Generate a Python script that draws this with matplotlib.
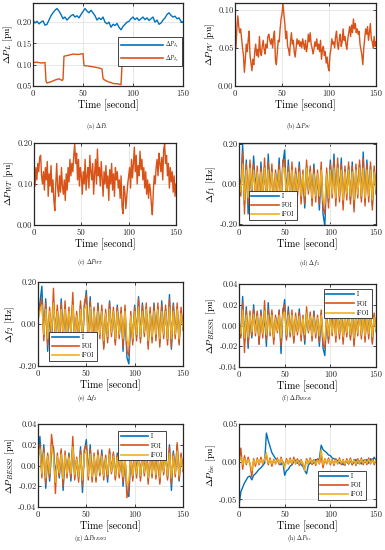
import numpy as np
import matplotlib
matplotlib.use("Agg")
import matplotlib.pyplot as plt
from matplotlib.ticker import FormatStrFormatter

plt.rcParams['font.family'] = ['cmr10', 'DejaVu Serif']
plt.rcParams['mathtext.fontset'] = 'cm'
plt.rcParams['axes.unicode_minus'] = False
plt.rcParams['axes.formatter.use_mathtext'] = False

C_BLUE = '#0072BD'
C_ORANGE = '#D95319'
C_YELLOW = '#EDB120'

# ---------------- data ----------------
t2 = np.arange(0, 151, 2)   # 2-second sample grid
t1 = np.arange(0, 151, 1)   # 1-second sample grid

PL1 = [0.205, 0.198, 0.202, 0.196, 0.200, 0.203, 0.193, 0.195, 0.205, 0.215,
       0.222, 0.228, 0.232, 0.226, 0.218, 0.208, 0.212, 0.205, 0.210, 0.215,
       0.218, 0.212, 0.215, 0.210, 0.218, 0.225, 0.232, 0.226, 0.222, 0.228,
       0.222, 0.215, 0.205, 0.210, 0.206, 0.212, 0.200, 0.196, 0.200, 0.188,
       0.195, 0.192, 0.197, 0.188, 0.182, 0.190, 0.195, 0.200, 0.202, 0.208,
       0.212, 0.206, 0.210, 0.204, 0.208, 0.212, 0.206, 0.210, 0.204, 0.208,
       0.212, 0.200, 0.205, 0.195, 0.198, 0.205, 0.210, 0.218, 0.222, 0.216,
       0.212, 0.214, 0.208, 0.210, 0.202, 0.200]

PL2_t = [0, 4, 8, 12, 13, 14, 18, 22, 26, 29, 30, 31, 35, 40, 45, 50, 51, 55, 60, 65,
         69, 70, 71, 75, 78, 80, 85, 88, 89, 90, 95, 100, 105, 110, 115, 120, 125, 130,
         135, 140, 145, 150]
PL2 = [0.105, 0.106, 0.104, 0.105, 0.062, 0.057, 0.060, 0.064, 0.067, 0.063, 0.065,
       0.120, 0.122, 0.125, 0.124, 0.126, 0.098, 0.097, 0.095, 0.093, 0.090, 0.068,
       0.065, 0.060, 0.058, 0.056, 0.055, 0.053, 0.098, 0.102, 0.106, 0.108, 0.105,
       0.107, 0.104, 0.106, 0.108, 0.106, 0.112, 0.108, 0.106, 0.105]

PPV = [0.065, 0.050, 0.075, 0.092, 0.078, 0.070, 0.075, 0.062, 0.050, 0.040,
       0.018, 0.035, 0.055, 0.045, 0.060, 0.072, 0.040, 0.030, 0.020, 0.035,
       0.028, 0.045, 0.055, 0.040, 0.048, 0.038, 0.065, 0.045, 0.040, 0.052,
       0.060, 0.048, 0.042, 0.055, 0.050, 0.065, 0.068, 0.060, 0.055, 0.062,
       0.050, 0.065, 0.072, 0.035, 0.028, 0.045, 0.060, 0.058, 0.075, 0.088,
       0.095, 0.108, 0.095, 0.082, 0.062, 0.072, 0.052, 0.048, 0.040, 0.058,
       0.070, 0.055, 0.060, 0.045, 0.038, 0.050, 0.062, 0.055, 0.060, 0.052,
       0.058, 0.050, 0.062, 0.055, 0.048, 0.060, 0.045, 0.052, 0.068, 0.058,
       0.070, 0.055, 0.050, 0.042, 0.048, 0.058, 0.052, 0.062, 0.048, 0.055,
       0.045, 0.060, 0.035, 0.048, 0.052, 0.040, 0.045, 0.030, 0.038, 0.025,
       0.020, 0.040, 0.048, 0.062, 0.055, 0.058, 0.050, 0.065, 0.072, 0.055,
       0.048, 0.062, 0.068, 0.052, 0.058, 0.075, 0.060, 0.065, 0.055, 0.048,
       0.062, 0.070, 0.078, 0.065, 0.080, 0.070, 0.088, 0.075, 0.082, 0.070,
       0.075, 0.068, 0.072, 0.055, 0.048, 0.040, 0.028, 0.050, 0.062, 0.075,
       0.068, 0.078, 0.060, 0.070, 0.082, 0.062, 0.058, 0.050, 0.065, 0.052,
       0.058]

PWT = [0.120, 0.095, 0.140, 0.110, 0.150, 0.130, 0.165, 0.170, 0.120, 0.100,
       0.130, 0.085, 0.140, 0.110, 0.155, 0.070, 0.125, 0.095, 0.145, 0.080,
       0.110, 0.060, 0.035, 0.100, 0.150, 0.090, 0.070, 0.120, 0.080, 0.140,
       0.095, 0.075, 0.110, 0.060, 0.125, 0.085, 0.140, 0.105, 0.160, 0.120,
       0.150, 0.130, 0.170, 0.198, 0.150, 0.175, 0.110, 0.160, 0.095, 0.140,
       0.120, 0.075, 0.130, 0.100, 0.160, 0.085, 0.120, 0.140, 0.090, 0.170,
       0.130, 0.110, 0.150, 0.075, 0.125, 0.160, 0.100, 0.185, 0.120, 0.140,
       0.095, 0.155, 0.115, 0.070, 0.130, 0.100, 0.145, 0.090, 0.120, 0.060,
       0.135, 0.100, 0.150, 0.085, 0.125, 0.070, 0.140, 0.110, 0.130, 0.090,
       0.110, 0.065, 0.120, 0.045, 0.028, 0.095, 0.080, 0.040, 0.070, 0.100,
       0.120, 0.140, 0.090, 0.160, 0.115, 0.150, 0.190, 0.130, 0.170, 0.100,
       0.145, 0.120, 0.180, 0.135, 0.160, 0.110, 0.140, 0.090, 0.130, 0.075,
       0.110, 0.065, 0.100, 0.085, 0.050, 0.025, 0.080, 0.120, 0.100, 0.140,
       0.160, 0.120, 0.175, 0.150, 0.130, 0.165, 0.110, 0.185, 0.198, 0.150,
       0.170, 0.120, 0.150, 0.090, 0.140, 0.105, 0.130, 0.080, 0.120, 0.070,
       0.100]

F1_I = [0.05, -0.04, 0.20, -0.10, 0.12, -0.15, 0.08, -0.06, 0.14, -0.02,
        0.06, -0.10, 0.11, -0.05, 0.09, -0.12, 0.15, -0.04, 0.07, -0.09,
        0.05, -0.02, 0.13, -0.10, 0.10, 0.17, -0.08, 0.12, -0.06, 0.08,
        -0.10, 0.06, -0.04, 0.11, -0.07, 0.05, -0.12, 0.09, -0.03, 0.07,
        -0.08, 0.10, -0.06, 0.04, -0.13, 0.08, -0.15, -0.21, 0.05, -0.09,
        0.12, -0.04, 0.15, -0.08, 0.10, -0.06, 0.13, -0.10, 0.07, -0.05,
        0.09, -0.08, 0.11, -0.12, 0.08, -0.04, 0.10, -0.07, 0.16, -0.09,
        0.12, -0.06, 0.09, -0.11, 0.07, -0.03]
F1_FOI = [0.03, -0.06, 0.16, -0.15, 0.10, -0.10, 0.12, -0.04, 0.10, -0.08,
          0.09, -0.12, 0.08, -0.08, 0.13, -0.09, 0.11, -0.07, 0.10, -0.13,
          0.07, -0.05, 0.10, -0.12, 0.12, 0.12, -0.10, 0.09, -0.08, 0.11,
          -0.12, 0.08, -0.06, 0.09, -0.10, 0.07, -0.10, 0.12, -0.05, 0.09,
          -0.11, 0.08, -0.09, 0.07, -0.10, 0.11, -0.12, -0.15, 0.08, -0.12,
          0.10, -0.07, 0.12, -0.11, 0.13, -0.09, 0.10, -0.13, 0.09, -0.08,
          0.11, -0.10, 0.09, -0.14, 0.10, -0.07, 0.12, -0.09, 0.13, -0.11,
          0.10, -0.09, 0.11, -0.13, 0.09, -0.05]
F1_iFOI = [0.02, -0.04, 0.10, -0.08, 0.07, -0.07, 0.08, -0.03, 0.07, -0.05,
           0.06, -0.07, 0.06, -0.05, 0.08, -0.06, 0.07, -0.05, 0.06, -0.08,
           0.05, -0.03, 0.07, -0.07, 0.08, 0.08, -0.06, 0.06, -0.05, 0.07,
           -0.07, 0.05, -0.04, 0.06, -0.06, 0.05, -0.06, 0.08, -0.03, 0.06,
           -0.07, 0.05, -0.06, 0.05, -0.06, 0.07, -0.08, -0.10, 0.05, -0.07,
           0.07, -0.05, 0.08, -0.07, 0.08, -0.06, 0.07, -0.08, 0.06, -0.05,
           0.07, -0.06, 0.06, -0.08, 0.07, -0.05, 0.08, -0.06, 0.08, -0.07,
           0.07, -0.06, 0.07, -0.08, 0.06, -0.03]

F2_I = [0.04, 0.10, 0.18, -0.06, 0.12, -0.13, 0.05, -0.08, 0.10, -0.04,
        0.07, -0.11, 0.12, -0.06, 0.08, -0.10, 0.06, -0.03, 0.10, -0.08,
        0.04, -0.05, 0.09, -0.12, 0.08, 0.16, -0.06, 0.13, -0.09, 0.06,
        -0.08, 0.10, -0.05, 0.07, -0.11, 0.05, -0.07, 0.11, -0.04, 0.06,
        -0.09, 0.09, -0.05, 0.06, -0.13, 0.07, -0.16, -0.19, 0.04, -0.08,
        0.09, -0.06, 0.13, -0.07, 0.10, -0.04, 0.08, -0.10, 0.06, -0.07,
        0.10, -0.06, 0.08, -0.09, 0.11, -0.05, 0.07, -0.08, 0.14, -0.12,
        0.10, -0.05, 0.08, -0.09, 0.06, -0.02]
F2_FOI = [0.02, 0.08, 0.12, -0.08, 0.10, -0.10, 0.08, -0.06, 0.17, -0.07,
          0.09, -0.09, 0.10, -0.08, 0.11, -0.08, 0.08, -0.05, 0.15, -0.10,
          0.06, -0.07, 0.11, -0.09, 0.10, 0.14, -0.08, 0.11, -0.11, 0.08,
          -0.10, 0.09, -0.07, 0.09, -0.12, 0.07, -0.09, 0.10, -0.06, 0.08,
          -0.10, 0.08, -0.07, 0.08, -0.11, 0.09, -0.13, -0.15, 0.06, -0.10,
          0.08, -0.08, 0.12, -0.09, 0.09, -0.06, 0.10, -0.12, 0.08, -0.09,
          0.09, -0.08, 0.10, -0.11, 0.09, -0.07, 0.09, -0.10, 0.12, -0.11,
          0.09, -0.07, 0.10, -0.10, 0.08, -0.03]
F2_iFOI = [0.02, 0.06, 0.09, -0.05, 0.07, -0.07, 0.06, -0.04, 0.10, -0.05,
           0.06, -0.06, 0.07, -0.05, 0.07, -0.06, 0.06, -0.04, 0.09, -0.07,
           0.04, -0.05, 0.07, -0.06, 0.07, 0.09, -0.06, 0.08, -0.07, 0.06,
           -0.07, 0.06, -0.05, 0.06, -0.08, 0.05, -0.06, 0.07, -0.04, 0.06,
           -0.07, 0.06, -0.05, 0.05, -0.07, 0.06, -0.08, -0.10, 0.04, -0.07,
           0.06, -0.05, 0.08, -0.06, 0.06, -0.04, 0.07, -0.08, 0.05, -0.06,
           0.06, -0.05, 0.07, -0.07, 0.06, -0.05, 0.06, -0.07, 0.08, -0.07,
           0.06, -0.05, 0.07, -0.07, 0.05, -0.02]

B1_I = [0.005, -0.010, 0.028, -0.015, 0.018, -0.022, 0.010, -0.012, 0.020, -0.005,
        0.012, -0.018, 0.015, -0.008, 0.010, -0.020, 0.022, -0.006, 0.012, -0.014,
        0.008, -0.004, 0.015, -0.027, 0.012, 0.025, -0.012, 0.018, -0.008, 0.010,
        -0.015, 0.008, -0.006, 0.016, -0.010, 0.007, -0.018, 0.012, -0.005, 0.010,
        -0.012, 0.014, -0.008, 0.006, -0.020, 0.012, -0.022, -0.029, 0.008, -0.014,
        0.016, -0.006, 0.020, -0.012, 0.014, -0.009, 0.018, -0.014, 0.010, -0.008,
        0.013, -0.012, 0.015, -0.018, 0.011, -0.006, 0.014, -0.010, 0.022, -0.013,
        0.016, -0.009, 0.013, -0.016, 0.010, -0.004]
B1_FOI = [0.003, -0.012, 0.022, -0.026, 0.015, -0.018, 0.014, -0.010, 0.016, -0.010,
          0.014, -0.018, 0.012, -0.012, 0.024, -0.014, 0.016, -0.010, 0.015, -0.018,
          0.010, -0.007, 0.014, -0.020, 0.016, 0.020, -0.014, 0.014, -0.011, 0.015,
          -0.017, 0.012, -0.009, 0.013, -0.015, 0.010, -0.014, 0.018, -0.007, 0.013,
          -0.015, 0.012, -0.012, 0.010, -0.016, 0.015, -0.018, -0.022, 0.011, -0.017,
          0.015, -0.010, 0.017, -0.016, 0.018, -0.013, 0.014, -0.018, 0.012, -0.011,
          0.015, -0.014, 0.013, -0.020, 0.014, -0.010, 0.016, -0.013, 0.019, -0.016,
          0.014, -0.013, 0.016, -0.018, 0.012, -0.006]
B1_iFOI = [0.002, -0.008, 0.015, -0.012, 0.010, -0.011, 0.010, -0.006, 0.011, -0.007,
           0.009, -0.010, 0.009, -0.008, 0.014, -0.009, 0.010, -0.007, 0.010, -0.011,
           0.007, -0.005, 0.010, -0.012, 0.010, 0.013, -0.009, 0.010, -0.007, 0.010,
           -0.010, 0.008, -0.006, 0.009, -0.009, 0.007, -0.009, 0.012, -0.005, 0.009,
           -0.010, 0.008, -0.008, 0.007, -0.010, 0.010, -0.011, -0.014, 0.007, -0.010,
           0.010, -0.007, 0.011, -0.010, 0.011, -0.008, 0.010, -0.011, 0.008, -0.007,
           0.010, -0.009, 0.009, -0.012, 0.009, -0.007, 0.010, -0.009, 0.012, -0.010,
           0.009, -0.008, 0.010, -0.011, 0.008, -0.004]

B2_I = [0.015, 0.028, -0.008, 0.020, -0.022, 0.010, -0.015, 0.012, 0.018, -0.010,
        0.008, -0.012, 0.014, -0.024, 0.010, -0.008, 0.012, -0.015, 0.020, -0.010,
        0.006, -0.012, 0.018, -0.026, 0.014, 0.025, -0.010, 0.020, -0.012, 0.009,
        -0.014, 0.012, -0.008, 0.015, -0.010, 0.008, -0.016, 0.014, -0.006, 0.011,
        -0.012, 0.012, -0.008, 0.010, -0.020, 0.008, -0.025, -0.030, 0.010, -0.012,
        0.015, -0.008, 0.018, -0.012, 0.012, -0.007, 0.016, -0.014, 0.010, -0.009,
        0.014, -0.010, 0.012, -0.016, 0.013, -0.006, 0.012, -0.012, 0.020, -0.024,
        0.014, -0.008, 0.020, -0.015, 0.010, -0.004]
B2_FOI = [0.010, 0.020, -0.012, 0.016, -0.018, 0.012, -0.012, 0.030, 0.014, -0.027,
          0.012, -0.010, 0.016, -0.020, 0.014, -0.012, 0.010, -0.012, 0.028, -0.014,
          0.008, -0.016, 0.015, -0.020, 0.016, 0.020, -0.014, 0.016, -0.016, 0.012,
          -0.016, 0.015, -0.010, 0.012, -0.014, 0.010, -0.012, 0.016, -0.008, 0.013,
          -0.014, 0.010, -0.012, 0.012, -0.016, 0.010, -0.031, -0.022, 0.012, -0.015,
          0.012, -0.012, 0.015, -0.015, 0.014, -0.010, 0.014, -0.018, 0.012, -0.012,
          0.016, -0.013, 0.010, -0.018, 0.014, -0.009, 0.014, -0.014, 0.018, -0.018,
          0.012, -0.011, 0.022, -0.014, 0.012, -0.006]
B2_iFOI = [0.008, 0.016, -0.008, 0.012, -0.012, 0.009, -0.008, 0.018, 0.010, -0.016,
           0.009, -0.007, 0.011, -0.013, 0.010, -0.008, 0.008, -0.008, 0.018, -0.009,
           0.006, -0.011, 0.010, -0.014, 0.011, 0.014, -0.010, 0.011, -0.011, 0.009,
           -0.011, 0.010, -0.007, 0.009, -0.010, 0.007, -0.009, 0.011, -0.006, 0.009,
           -0.010, 0.008, -0.008, 0.008, -0.011, 0.007, -0.018, -0.015, 0.008, -0.010,
           0.009, -0.008, 0.010, -0.010, 0.010, -0.007, 0.010, -0.012, 0.008, -0.008,
           0.011, -0.009, 0.008, -0.012, 0.010, -0.006, 0.010, -0.010, 0.012, -0.012,
           0.009, -0.008, 0.014, -0.010, 0.008, -0.004]

T_I = [-0.058, -0.040, -0.034, -0.028, -0.024, -0.020, -0.019, -0.024, -0.018, -0.016,
       -0.013, -0.010, -0.008, -0.005, -0.002, 0.038, 0.028, 0.020, 0.012, 0.008,
       0.004, 0.002, -0.002, -0.004, 0.000, -0.018, -0.012, -0.010, -0.006, -0.004,
       0.000, 0.002, -0.002, 0.001, -0.004, -0.006, -0.012, -0.016, -0.004, -0.002,
       0.001, -0.002, 0.003, 0.002, 0.004, 0.022, 0.016, 0.014, 0.012, 0.009,
       0.008, 0.005, 0.004, 0.003, 0.001, -0.002, 0.000, -0.004, -0.002, 0.001,
       -0.003, 0.002, -0.004, 0.000, 0.003, -0.002, 0.001, -0.003, 0.002, -0.001,
       0.003, -0.002, 0.004, 0.001, 0.006, 0.002]
T_FOI = [0.000, 0.018, -0.010, 0.008, -0.004, 0.006, -0.003, -0.020, 0.004, -0.006,
         0.005, -0.004, 0.006, -0.003, 0.004, 0.008, -0.004, 0.005, -0.006, 0.003,
         -0.003, 0.005, -0.004, 0.006, -0.002, -0.005, 0.004, -0.003, 0.005, -0.004,
         0.006, -0.003, 0.004, -0.005, 0.003, -0.004, -0.008, 0.004, -0.003, 0.005,
         -0.004, 0.003, -0.005, 0.004, -0.003, 0.008, -0.008, 0.004, -0.003, 0.005,
         -0.004, 0.003, -0.005, 0.004, -0.003, 0.005, -0.004, 0.003, -0.005, 0.004,
         -0.003, 0.005, -0.004, 0.003, -0.005, 0.004, -0.003, 0.005, -0.004, 0.003,
         -0.004, 0.005, -0.003, 0.004, -0.004, 0.003]
T_iFOI = [0.000, 0.006, -0.004, 0.004, -0.002, 0.003, -0.002, -0.012, 0.002, -0.003,
          0.003, -0.002, 0.003, -0.002, 0.003, 0.012, -0.002, 0.003, -0.003, 0.002,
          -0.002, 0.003, -0.002, 0.004, -0.001, -0.008, 0.002, -0.002, 0.003, -0.002,
          0.003, -0.002, 0.002, -0.003, 0.002, -0.002, -0.012, 0.002, -0.002, 0.003,
          -0.002, 0.002, -0.003, 0.002, -0.002, 0.016, -0.004, 0.003, -0.002, 0.003,
          -0.002, 0.002, -0.003, 0.002, -0.002, 0.003, -0.002, 0.002, -0.003, 0.002,
          -0.002, 0.003, -0.002, 0.002, -0.003, 0.002, -0.002, 0.003, -0.002, 0.002,
          -0.002, 0.003, -0.002, 0.002, -0.002, 0.002]

LEG3 = ['I', 'FOI', 'iFOI']

# ---------------- layout ----------------
W, H = 385, 550
fig = plt.figure(figsize=(W / 100, H / 100), dpi=100)

TICK_FS = 6.1
LAB_FS = 7.2
YLAB_FS = 6.9
CAP_FS = 4.2
LW = 1.0


def make_ax(l, r, t, b):
    ax = fig.add_axes([l / W, 1 - b / H, (r - l) / W, (b - t) / H])
    ax.set_xlim(0, 150)
    ax.set_xticks([0, 50, 100, 150])
    ax.grid(True, color='#e3e3e3', linewidth=0.6)
    ax.set_axisbelow(True)
    for s in ax.spines.values():
        s.set_linewidth(0.9)
        s.set_color('#262626')
    ax.tick_params(direction='in', length=2, width=0.6, labelsize=TICK_FS,
                   top=True, right=True, colors='#262626')
    ax.tick_params(axis='x', labelsize=6.3, pad=2.5)
    ax.tick_params(axis='y', pad=1.0)
    ax.yaxis.set_major_formatter(FormatStrFormatter('%.2f'))
    ax.set_xlabel('Time [second]', fontsize=LAB_FS, labelpad=1.5)
    return ax


def ylab(ax, text):
    ax.set_ylabel(text, fontsize=YLAB_FS, labelpad=1.0)


def legend(ax, handles, labels, loc, anchor, fs=4.3, hl=4.6):
    lg = ax.legend(handles, labels, loc=loc, bbox_to_anchor=anchor, fontsize=fs,
                   frameon=True, fancybox=False, framealpha=1, edgecolor='#262626',
                   handlelength=hl, borderpad=0.45, labelspacing=0.55,
                   handletextpad=0.5, borderaxespad=0)
    lg.get_frame().set_linewidth(0.6)
    for ln in lg.get_lines():
        ln.set_linewidth(1.2)
    return lg


def three(ax, a, b, c):
    h1, = ax.plot(t2, a, color=C_BLUE, lw=LW)
    h2, = ax.plot(t2, b, color=C_ORANGE, lw=LW)
    h3, = ax.plot(t2, c, color=C_YELLOW, lw=LW)
    return [h1, h2, h3]


def caption(x, y, letter, math):
    fig.text(x / W, 1 - y / H, '(' + letter + ') ' + math, fontsize=CAP_FS,
             fontweight='bold', ha='center', va='center')

# (a)
ax = make_ax(33, 183, 3, 86)
h1, = ax.plot(t2, PL1, color=C_BLUE, lw=LW)
h2, = ax.plot(PL2_t, PL2, color=C_ORANGE, lw=LW)
ax.set_ylim(0.05, 0.245)
ax.set_yticks([0.05, 0.10, 0.15, 0.20])
ylab(ax, r'$\Delta P_L$ [pu]')
legend(ax, [h1, h2], [r'$\Delta P_{L_1}$', r'$\Delta P_{L_2}$'], 'upper right',
       (0.993, 0.59), fs=4.0, hl=7.5)
caption(97, 126, 'a', r'$\Delta P_L$')

# (b)
ax = make_ax(235, 376, 3, 86)
ax.plot(t1, PPV, color=C_ORANGE, lw=LW)
ax.set_ylim(0, 0.109)
ax.set_yticks([0, 0.05, 0.10])
ylab(ax, r'$\Delta P_{PV}$ [pu]')
caption(299, 126, 'b', r'$\Delta P_{PV}$')

# (c)
ax = make_ax(34, 176, 143, 225)
ax.plot(t1, PWT, color=C_ORANGE, lw=LW)
ax.set_ylim(0, 0.2)
ax.set_yticks([0, 0.1, 0.2])
ylab(ax, r'$\Delta P_{WT}$ [pu]')
caption(90, 262, 'c', r'$\Delta P_{WT}$')

# (d)
ax = make_ax(239, 376, 143, 225)
hs = three(ax, F1_I, F1_FOI, F1_iFOI)
ax.set_ylim(-0.205, 0.205)
ax.set_yticks([-0.2, 0, 0.2])
ylab(ax, r'$\Delta f_1$ [Hz]')
legend(ax, hs, LEG3, 'lower left', (0.07, 0.06))
caption(310, 263, 'd', r'$\Delta f_1$')

# (e)
ax = make_ax(38, 183, 282, 366)
hs = three(ax, F2_I, F2_FOI, F2_iFOI)
ax.set_ylim(-0.2, 0.2)
ax.set_yticks([-0.2, 0, 0.2])
ylab(ax, r'$\Delta f_2$ [Hz]')
legend(ax, hs, LEG3, 'lower left', (0.076, 0.06))
caption(87, 398, 'e', r'$\Delta f_2$')

# (f)
ax = make_ax(239, 376, 284, 367)
hs = three(ax, B1_I, B1_FOI, B1_iFOI)
ax.set_ylim(-0.04, 0.04)
ax.set_yticks([-0.04, -0.02, 0, 0.02, 0.04])
ylab(ax, r'$\Delta P_{BESS1}$ [pu]')
legend(ax, hs, LEG3, 'upper right', (0.97, 0.94))
caption(297, 398, 'f', r'$\Delta P_{BESS1}$')

# (g)
ax = make_ax(38, 183, 424, 507)
hs = three(ax, B2_I, B2_FOI, B2_iFOI)
ax.set_ylim(-0.04, 0.04)
ax.set_yticks([-0.04, -0.02, 0, 0.02, 0.04])
ylab(ax, r'$\Delta P_{BESS2}$ [pu]')
legend(ax, hs, LEG3, 'upper right', (0.883, 0.916))
caption(90, 538, 'g', r'$\Delta P_{BESS2}$')

# (h)
ax = make_ax(239, 376, 424, 507)
hs = three(ax, T_I, T_FOI, T_iFOI)
ax.set_ylim(-0.06, 0.05)
ax.set_yticks([-0.05, 0, 0.05])
ylab(ax, r'$\Delta P_{tie}$ [pu]')
legend(ax, hs, LEG3, 'lower right', (0.927, 0.084))
caption(299, 538, 'h', r'$\Delta P_{tie}$')

fig.savefig('out.png', dpi=100)
